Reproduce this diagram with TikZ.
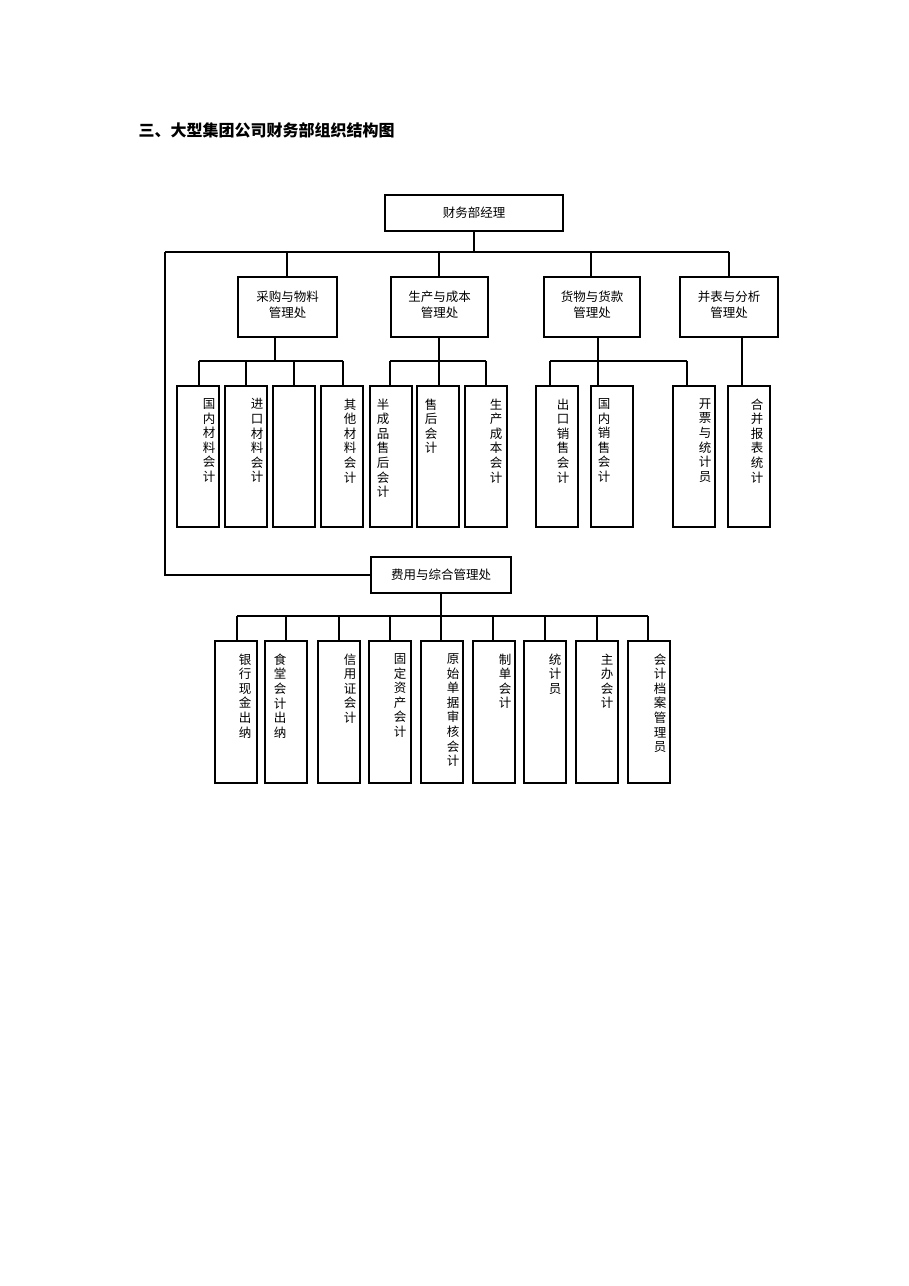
\documentclass[tikz,border=0pt]{standalone}
\usepackage{fontspec}
\setmainfont{Noto Sans CJK SC}
\newfontfamily\cjkb{Noto Sans CJK SC}[BoldFont={Noto Sans CJK SC Bold}]
\begin{document}
\begin{tikzpicture}[x=1pt,y=-1pt,line width=1.3pt,
  box/.style={draw,line width=1.3pt},
  vt/.style={anchor=north,inner sep=0pt,align=center,font=\fontsize{12.5}{14.6}\selectfont},
  ht/.style={inner sep=0pt,align=center,font=\fontsize{12.5}{16}\selectfont}]
\useasboundingbox (0,0) rectangle (909,1286);
\node[anchor=west,inner sep=0pt,font=\fontsize{16}{18}\selectfont\bfseries] (title) at (138,130) {三、大型集团公司财务部组织结构图};
% top
\draw[box] (385,195) rectangle (563,231); \node[ht] (top) at (474,213) {财务部经理};
\draw (474,231) -- (474,252);
\draw (165,252) -- (729,252);
\draw (165,252) -- (165,575) -- (371,575);
% level 2
\foreach \a/\b/\c/\t in {238/337/287/{采购与物料\\管理处},391/488/439/{生产与成本\\管理处},544/640/591/{货物与货款\\管理处},680/778/729/{并表与分析\\管理处}}{
  \draw (\c,252) -- (\c,277);
  \draw[box] (\a,277) rectangle (\b,337);
  \node[ht] at ({(\a+\b)/2},305) {\t};
}
% A children
\draw (275,337) -- (275,361); \draw (199,361) -- (343,361);
\draw (439,337) -- (439,361); \draw (390,361) -- (486,361);
\draw (598,337) -- (598,361); \draw (550,361) -- (687,361);
\draw (742,337) -- (742,386);
\foreach \l/\d/\tx/\t in {177/199/209/{国\\内\\材\\料\\会\\计},225/246/257/{进\\口\\材\\料\\会\\计},273/294/294/{},321/343/350/{其\\他\\材\\料\\会\\计},
 370/390/383/{半\\成\\品\\售\\后\\会\\计},417/439/431/{售\\后\\会\\计},465/486/496/{生\\产\\成\\本\\会\\计},
 536/550/563/{出\\口\\销\\售\\会\\计},591/598/604/{国\\内\\销\\售\\会\\计},673/687/705/{开\\票\\与\\统\\计\\员},728/742/757/{合\\并\\报\\表\\统\\计}}{
  \draw (\d,361) -- (\d,386);
  \draw[box] (\l,386) rectangle ({\l+42},527);
  \node[vt] at (\tx,398) {\t};
}
% 费用
\draw[box] (371,557) rectangle (511,593); \node[ht] (fy) at (441,575) {费用与综合管理处};
\draw (441,593) -- (441,616); \draw (237,616) -- (648,616);
\foreach \l/\d/\tx/\t in {215/237/245/{银\\行\\现\\金\\出\\纳},265/286/280/{食\\堂\\会\\计\\出\\纳},318/339/350/{信\\用\\证\\会\\计},369/390/400/{固\\定\\资\\产\\会\\计},421/441/453/{原\\始\\单\\据\\审\\核\\会\\计},473/493/505/{制\\单\\会\\计},524/545/555/{统\\计\\员},576/597/607/{主\\办\\会\\计},628/648/660/{会\\计\\档\\案\\管\\理\\员}}{
  \draw (\d,616) -- (\d,641);
  \draw[box] (\l,641) rectangle ({\l+42},783);
  \node[vt] at (\tx,653) {\t};
}
\end{tikzpicture}
\end{document}
